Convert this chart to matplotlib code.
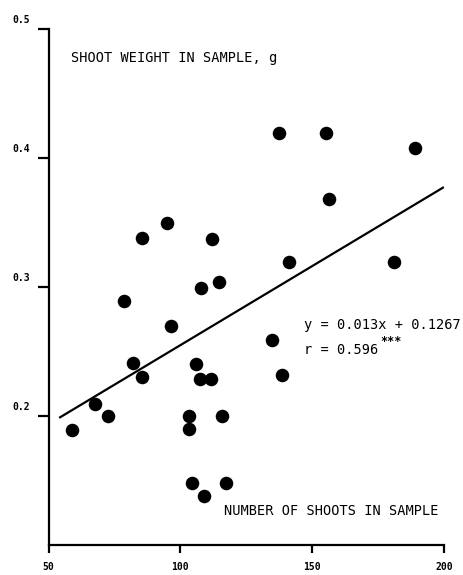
import matplotlib
matplotlib.use("Agg")
import matplotlib.pyplot as plt
from matplotlib.transforms import ScaledTranslation

# Data
shoots = [59.0, 67.6, 72.6, 78.6, 81.9, 85.3, 85.6, 95.0, 96.3, 103.3, 103.3,
          104.5, 105.9, 107.7, 107.5, 109.0, 111.5, 112.1, 114.7, 115.8, 117.4,
          134.8, 137.4, 138.4, 141.2, 155.2, 156.4, 181.0, 189.0]
weight = [0.189, 0.209, 0.200, 0.289, 0.241, 0.230, 0.338, 0.350, 0.270, 0.200, 0.190,
          0.148, 0.240, 0.299, 0.229, 0.138, 0.229, 0.337, 0.304, 0.200, 0.148,
          0.259, 0.419, 0.232, 0.319, 0.419, 0.368, 0.319, 0.408]
fit_x = [54.4, 199.6]
fit_y = [0.199, 0.377]

x_ticks = [50, 100, 150, 200]
x_labels = ["50", "100", "150", "200"]
y_ticks = [0.2, 0.3, 0.4, 0.5]
y_labels = ["0.2", "0.3", "0.4", "0.5"]

ylabel_text = "SHOOT WEIGHT IN SAMPLE, g"
xlabel_text = "NUMBER OF SHOOTS IN SAMPLE"
eq_text = "y = 0.013x + 0.1267"
r_text = "r = 0.596"
sig_text = "***"

mono = ["DejaVu Sans Mono"]
fs = 9.8

fig = plt.figure(figsize=(4.63, 5.75), dpi=100)
ax = fig.add_axes([48.5 / 463, 30 / 575, 395.5 / 463, 516 / 575])

ax.scatter(shoots, weight, s=95, color="black", zorder=3, linewidths=0)
ax.plot(fit_x, fit_y, color="black", lw=1.6, zorder=2)

ax.set_xlim(50, 200)
ax.set_ylim(0.1, 0.5)

for s in ["top", "right"]:
    ax.spines[s].set_visible(False)
for s in ["left", "bottom"]:
    ax.spines[s].set_linewidth(1.6)

ax.set_xticks(x_ticks)
ax.set_xticklabels(x_labels, family=mono, fontsize=7, fontweight="bold")
ax.set_yticks(y_ticks)
ax.set_yticklabels(y_labels, family=mono, fontsize=7, fontweight="bold")
ax.tick_params(axis="x", direction="out", length=6, width=1.6, pad=6)
ax.tick_params(axis="y", direction="out", length=8, width=1.6, pad=5)

off = ScaledTranslation(0, 0.10, fig.dpi_scale_trans)
for lab in ax.get_yticklabels():
    lab.set_transform(lab.get_transform() + off)


def px(x, y):
    return (x / 463, 1 - y / 575)


fig.text(*px(71, 58), ylabel_text, family=mono, fontsize=fs, ha="left", va="center")
fig.text(*px(224, 511), xlabel_text, family=mono, fontsize=fs, ha="left", va="center")
fig.text(*px(304, 325), eq_text, family=mono, fontsize=fs, ha="left", va="center")
fig.text(*px(304, 350), r_text, family=mono, fontsize=fs, ha="left", va="center")
fig.text(*px(380, 342), sig_text, family=mono, fontsize=8.5, fontweight="bold",
         ha="left", va="center")

fig.savefig("out.png", dpi=100)
